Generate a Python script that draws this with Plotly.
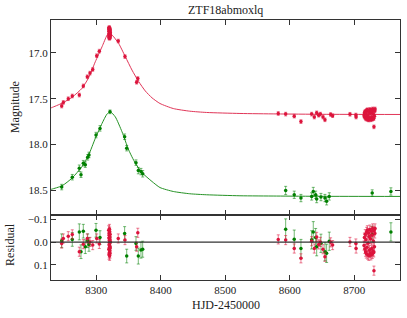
import plotly.graph_objects as go

# ---------------- data ----------------
# model curves (HJD-2450000, mag)
model_t_r = [8229.8, 8231.3, 8246.9, 8262.4, 8277.9, 8288.2, 8298.5, 8308.9, 8316.6, 8320.2, 8327.0,
             8334.8, 8345.0, 8355.4, 8365.8, 8376.0, 8386.4, 8398.8, 8419.4, 8445.0, 8471.0,
             8522.8, 8579.7, 8650.0, 8771.0]
model_m_r = [17.600, 17.596, 17.549, 17.484, 17.386, 17.270, 17.096, 16.933, 16.807, 16.777, 16.824,
             16.897, 17.040, 17.187, 17.313, 17.415, 17.490, 17.552, 17.607, 17.636, 17.650,
             17.661, 17.666, 17.670, 17.672]
model_t_g = [8229.8, 8231.3, 8246.9, 8262.4, 8277.9, 8288.2, 8298.5, 8308.9, 8316.6, 8321.8, 8329.5,
             8339.9, 8350.3, 8360.5, 8370.9, 8386.4, 8398.8, 8419.4, 8445.0, 8471.0,
             8522.8, 8579.7, 8650.0, 8771.0]
model_m_g = [18.490, 18.487, 18.451, 18.367, 18.241, 18.114, 17.933, 17.770, 17.668, 17.643, 17.698,
             17.861, 18.060, 18.204, 18.307, 18.404, 18.470, 18.513, 18.538, 18.549,
             18.560, 18.563, 18.566, 18.567]

# r-band observations
t_r = [8246.4, 8248.9, 8256.6, 8262.8, 8273.7, 8279.9, 8286.1, 8290.3, 8294.5, 8300.7, 8304.7,
       8319.3, 8319.5, 8319.6, 8319.8, 8319.9, 8320.0, 8320.1, 8320.2, 8320.3, 8320.4, 8320.5,
       8320.6, 8320.7, 8320.8, 8320.9, 8321.0, 8321.1, 8321.2, 8321.3, 8321.4, 8321.6, 8321.8,
       8334.1, 8344.5, 8362.6, 8364.4,
       8582.2, 8593.7, 8607.0, 8617.4, 8634.0, 8638.1, 8641.8, 8644.9, 8647.5, 8651.6, 8654.6,
       8663.4, 8666.5, 8693.4, 8702.6, 8702.9,
       8715.2, 8715.8, 8716.5, 8717.1, 8717.6, 8718.2, 8718.7, 8719.3, 8719.8, 8720.4, 8720.9,
       8721.5, 8722.0, 8722.6, 8723.1, 8723.7, 8724.2, 8724.8, 8725.3, 8725.9, 8726.4, 8727.0,
       8727.5, 8728.1, 8728.6, 8729.2, 8729.7, 8730.3, 8730.9, 8731.4, 8731.9, 8732.3,
       8730.6]
m_r = [17.580, 17.540, 17.500, 17.470, 17.460, 17.360, 17.260, 17.220, 17.180, 17.030, 16.980,
       16.728, 16.811, 16.762, 16.835, 16.740, 16.792, 16.750, 16.826, 16.784, 16.722, 16.802,
       16.772, 16.840, 16.734, 16.797, 16.756, 16.818, 16.768, 16.830, 16.745, 16.806, 16.778,
       16.870, 17.040, 17.320, 17.280,
       17.661, 17.668, 17.690, 17.750, 17.668, 17.700, 17.654, 17.680, 17.668, 17.700, 17.730,
       17.672, 17.685, 17.670, 17.678, 17.700,
       17.687, 17.652, 17.702, 17.637, 17.714, 17.662, 17.722, 17.627, 17.694, 17.620, 17.727,
       17.677, 17.632, 17.732, 17.647, 17.707, 17.617, 17.720, 17.657, 17.730, 17.624, 17.700,
       17.642, 17.724, 17.612, 17.712, 17.667, 17.717, 17.622, 17.692, 17.634, 17.612,
       17.807]
res_r = [0.006, -0.016, -0.026, -0.034, 0.042, 0.009, -0.016, -0.001, 0.013, -0.016, 0.008,
         -0.052, 0.031, -0.018, 0.055, -0.040, 0.012, -0.030, 0.046, 0.004, -0.058, 0.022,
         -0.008, 0.060, -0.046, 0.017, -0.024, 0.038, -0.012, 0.050, -0.035, 0.026, -0.002,
         -0.016, -0.009, 0.020, -0.041,
         -0.012, -0.009, 0.028, 0.071, -0.004, 0.028, -0.023, 0.010, -0.001, 0.031, 0.064,
         0.001, 0.013, -0.001, 0.006, 0.028,
         0.015, -0.020, 0.030, -0.035, 0.042, -0.010, 0.050, -0.045, 0.022, -0.052, 0.055,
         0.005, -0.040, 0.060, -0.025, 0.035, -0.055, 0.048, -0.015, 0.058, -0.048, 0.028,
         -0.030, 0.052, -0.060, 0.040, -0.005, 0.045, -0.050, 0.020, -0.038, -0.060,
         0.125]
e_r = [0.02] * len(t_r)

# g-band observations
t_g = [8246.4, 8262.8, 8273.7, 8276.3, 8279.9, 8283.0, 8286.7, 8288.7, 8299.6, 8305.8, 8321.3,
       8344.0, 8347.2, 8361.6, 8365.2, 8369.3, 8372.0,
       8593.7, 8607.0, 8617.4, 8634.0, 8636.5, 8640.2, 8641.8, 8648.4, 8654.6, 8657.2, 8661.3,
       8727.9, 8756.9]
m_g = [18.465, 18.357, 18.259, 18.330, 18.204, 18.220, 18.140, 18.114, 17.897, 17.824, 17.643,
       17.915, 18.040, 18.198, 18.285, 18.296, 18.320,
       18.502, 18.549, 18.585, 18.567, 18.513, 18.549, 18.596, 18.574, 18.585, 18.620, 18.567,
       18.530, 18.513]
res_g = [-0.006, -0.012, -0.045, 0.042, -0.048, 0.020, -0.006, 0.010, -0.052, -0.020, 0.000,
         -0.038, 0.061, 0.006, 0.061, 0.035, 0.031,
         -0.057, -0.013, 0.028, -0.010, -0.045, -0.020, 0.020, 0.005, 0.042, 0.049, -0.004,
         -0.035, -0.045]
e_g = [0.03, 0.03, 0.035, 0.03, 0.03, 0.03, 0.03, 0.03, 0.03, 0.03, 0.02,
       0.03, 0.03, 0.03, 0.035, 0.035, 0.035,
       0.045, 0.04, 0.04, 0.04, 0.045, 0.04, 0.04, 0.04, 0.04, 0.04, 0.04,
       0.035, 0.04]

x_ticks = [8300, 8400, 8500, 8600, 8700]
mag_ticks = [17.0, 17.5, 18.0, 18.5]
mag_tick_text = ["17.0", "17.5", "18.0", "18.5"]
res_ticks = [-0.1, 0.0, 0.1]
res_tick_text = ["\u22120.1", "0.0", "0.1"]

title = "ZTF18abmoxlq"
x_label = "HJD-2450000"
y_label_top = "Magnitude"
y_label_bot = "Residual"

# ---------------- styles ----------------
RED = "#DC143C"
GREEN = "#008000"
RED_E = "rgba(220,20,60,0.55)"
GREEN_E = "rgba(0,128,0,0.55)"
FONT = "Liberation Serif"
TXT = "#222222"

fig = go.Figure()

def obs(t, m, e, col, ecol, xa, ya):
    return go.Scatter(x=t, y=m, mode="markers", xaxis=xa, yaxis=ya,
                      marker=dict(color=col, size=3.5, symbol="circle", line=dict(width=0)),
                      error_y=dict(type="data", array=e, visible=True, color=ecol,
                                   thickness=1, width=1.5),
                      showlegend=False, hoverinfo="skip")

# top panel
fig.add_trace(go.Scatter(x=model_t_g, y=model_m_g, mode="lines",
                         line=dict(color=GREEN, width=1, shape="spline", smoothing=0.6),
                         opacity=0.85, xaxis="x", yaxis="y", showlegend=False, hoverinfo="skip"))
fig.add_trace(go.Scatter(x=model_t_r, y=model_m_r, mode="lines",
                         line=dict(color=RED, width=1, shape="spline", smoothing=0.6),
                         opacity=0.85, xaxis="x", yaxis="y", showlegend=False, hoverinfo="skip"))
fig.add_trace(obs(t_g, m_g, e_g, GREEN, GREEN_E, "x", "y"))
fig.add_trace(obs(t_r, m_r, e_r, RED, RED_E, "x", "y"))

# residual panel
fig.add_trace(obs(t_g, res_g, e_g, GREEN, GREEN_E, "x2", "y2"))
fig.add_trace(obs(t_r, res_r, e_r, RED, RED_E, "x2", "y2"))

axis_common = dict(showline=True, linecolor="#333333", linewidth=1.2, mirror="ticks",
                   ticks="inside", ticklen=5, tickwidth=1, tickcolor="#333333",
                   showgrid=False, zeroline=False,
                   tickfont=dict(family=FONT, size=11, color=TXT))

xr = [8229.8, 8771.0]
fig.update_layout(
    width=407, height=318,
    margin=dict(l=51, r=7, t=20, b=38),
    paper_bgcolor="white", plot_bgcolor="white",
    xaxis=dict(range=xr, domain=[0, 1], anchor="y", tickvals=x_ticks, showticklabels=False, **axis_common),
    yaxis=dict(range=[18.77, 16.64], domain=[0.25, 1], anchor="x", tickvals=mag_ticks,
               ticktext=mag_tick_text, **axis_common),
    xaxis2=dict(range=xr, domain=[0, 1], anchor="y2", tickvals=x_ticks, matches="x", **axis_common),
    yaxis2=dict(range=[0.166, -0.119], domain=[0, 0.25], anchor="x2", tickvals=res_ticks,
                ticktext=res_tick_text, **axis_common),
    shapes=[dict(type="line", xref="x2 domain", yref="y2", x0=0, x1=1, y0=0, y1=0,
                 line=dict(color="#333333", width=1.2))],
    annotations=[
        dict(text=title, x=0.5, y=1.0, xref="paper", yref="paper", xanchor="center", yanchor="bottom",
             yshift=1, showarrow=False, font=dict(family=FONT, size=12, color=TXT)),
        dict(text=x_label, x=0.5, y=0, xref="paper", yref="paper", xanchor="center", yanchor="top",
             yshift=-16, showarrow=False, font=dict(family=FONT, size=12, color=TXT)),
        dict(text=y_label_top, x=0, y=0.665, xref="paper", yref="paper", xanchor="center", yanchor="middle",
             xshift=-36, textangle=-90, showarrow=False, font=dict(family=FONT, size=12, color=TXT)),
        dict(text=y_label_bot, x=0, y=0.135, xref="paper", yref="paper", xanchor="center", yanchor="middle",
             xshift=-41, textangle=-90, showarrow=False, font=dict(family=FONT, size=12, color=TXT)),
    ],
)

# remove the browser's default 8px page margin so the figure sits at the window's top-left corner
fig.write_html("out.html", config={"displayModeBar": False},
               post_script="document.body.style.margin='0px';")
